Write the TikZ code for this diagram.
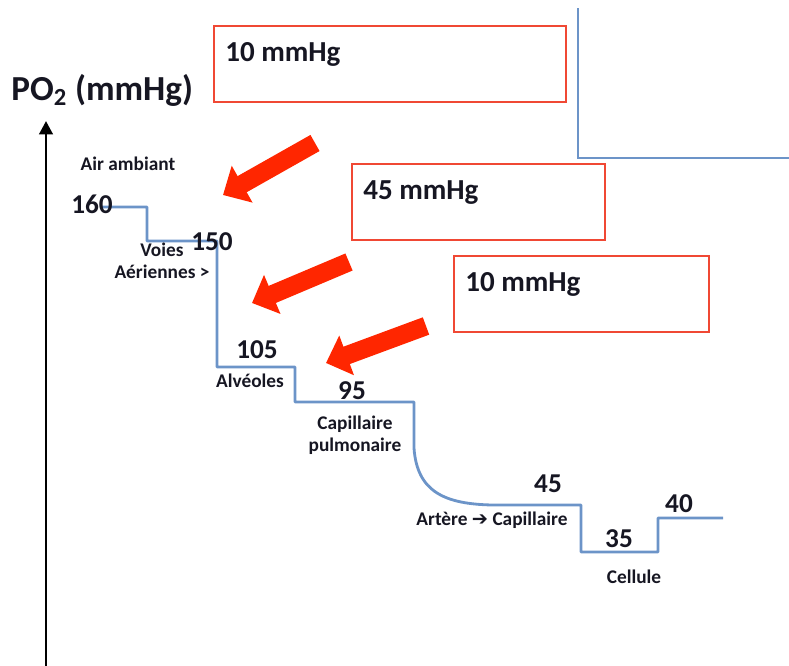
\documentclass[tikz,border=0pt]{standalone}
\usepackage{fontspec}
\setmainfont{Carlito}
\newfontfamily\symfont{DejaVu Sans}
\usetikzlibrary{arrows.meta,positioning}
\definecolor{stepblue}{RGB}{108,148,200}
\definecolor{boxred}{RGB}{240,72,52}
\definecolor{arrowred}{RGB}{255,38,0}
\definecolor{inkdark}{RGB}{22,22,34}

\begin{document}
\begin{tikzpicture}[
    x=0.02cm, y=-0.02cm,
    value node/.style={font=\bfseries\fontsize{15.5}{18}\selectfont, text=inkdark, anchor=base, inner sep=0pt},
    place node/.style={font=\bfseries\fontsize{11}{12.5}\selectfont, text=inkdark, anchor=base, align=center, inner sep=0pt},
    gap box/.style={draw=boxred, line width=1pt, anchor=north west, minimum height=1.52cm, inner sep=0pt},
    gap text/.style={font=\bfseries\fontsize{16.5}{19}\selectfont, text=inkdark, anchor=base west, inner sep=0pt},
    gap arrow/.style={draw=arrowred, line width=0.37cm, -{Triangle[width=0.82cm,length=0.44cm]}},
    step line/.style={draw=stepblue, line width=1.6pt, line join=round}
]

%================FRAME================
\useasboundingbox (0,0) rectangle (789,666);

% axis and its title
\coordinate (axisfoot) at (46,666);
\coordinate (axistop) at (46,121);
\draw[line width=1.7pt, -{Triangle[width=0.27cm,length=0.27cm]}] (axisfoot) -- (axistop);
\node[font=\bfseries\fontsize{20}{24}\selectfont, text=inkdark, anchor=base west, inner sep=0pt]
    (ytitle) at (11,100) {PO\textsubscript{2} (mmHg)};

% corner lines top right
\draw[stepblue, line width=1.1pt] (578,8) -- (578,158) -- (789,158);

%================STEP CURVE================
\draw[step line] (100,207) -- (147,207) -- (147,241) -- (217,241) -- (217,367)
    -- (295,367) -- (295,402) -- (414,402) -- (414,448)
    .. controls (417,492) and (445,504) .. (492,505)
    -- (581,505) -- (581,552) -- (658,552) -- (658,518) -- (723,518);

% --- values ---
\node[value node] (v160) at (92,214) {160};
\node[value node] (v150) at (212,250) {150};
\node[value node] (v105) at (257,358) {105};
\node[value node] (v95)  at (352,399) {95};
\node[value node] (v45)  at (548,492) {45};
\node[value node] (v35)  at (619,547) {35};
\node[value node] (v40)  at (679,512) {40};

% --- places ---
\node[place node] (air)   at (128,170) {Air ambiant};
\node[place node] (voies) at (162,278) {Voies\\Aériennes >};
\node[place node] (alv)   at (250,387) {Alvéoles};
\node[place node] (capp)  at (355,451) {Capillaire\\pulmonaire};
\node[place node] (art)   at (492,525) {Artère {\symfont ➔} Capillaire};
\node[place node] (cell)  at (634,583) {Cellule};

%================GAPS================
\foreach \bx/\by/\bw/\val/\tx/\ty/\hx/\hy [count=\c] in {
    213/25/352/10/315/143/223/195,
    351/163/253/45/349/262/252/303,
    453/255/255/10/426/326/326/363} {
    \node[gap box, minimum width=\bw*0.02cm] (box\c) at (\bx,\by) {};
    \node[gap text] (gap\c) at ([shift={(12,36)}]box\c.north west) {\val\ mmHg};
    \coordinate (tail\c) at (\tx,\ty);
    \coordinate (head\c) at (\hx,\hy);
    \draw[gap arrow] (tail\c) -- (head\c);
}

\end{tikzpicture}
\end{document}
